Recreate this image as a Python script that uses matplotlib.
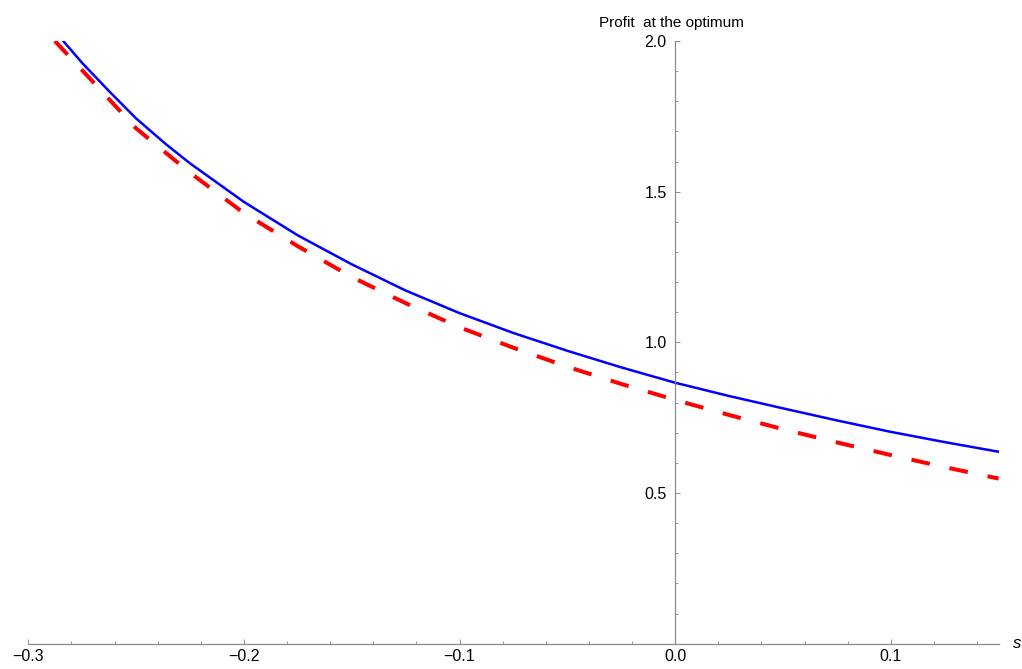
import numpy as np
import matplotlib.pyplot as plt
from matplotlib.ticker import MultipleLocator, FixedLocator

plt.rcParams["font.family"] = ["Liberation Sans", "DejaVu Sans"]
plt.rcParams["lines.scale_dashes"] = False

# values
s_blue = [-0.2838, -0.275, -0.2622, -0.25, -0.2359, -0.225, -0.2, -0.175, -0.15, -0.125, -0.1,
          -0.075, -0.05, -0.025, 0.0, 0.025, 0.05, 0.075, 0.1, 0.125, 0.15]
profit_blue = [2.0, 1.927, 1.831, 1.743, 1.656, 1.594, 1.466, 1.355, 1.259, 1.172, 1.097,
               1.031, 0.972, 0.917, 0.866, 0.822, 0.781, 0.741, 0.703, 0.669, 0.637]

s_red = [-0.2877, -0.2715, -0.25, -0.225, -0.2, -0.175, -0.15, -0.125, -0.1,
         -0.075, -0.05, -0.025, 0.0, 0.025, 0.05, 0.075, 0.1, 0.125, 0.15]
profit_red = [2.0, 1.876, 1.710, 1.563, 1.429, 1.319, 1.217, 1.130, 1.050,
              0.982, 0.919, 0.862, 0.809, 0.759, 0.712, 0.668, 0.626, 0.586, 0.548]

x_major = [-0.3, -0.2, -0.1, 0.0, 0.1]
y_major = [0.5, 1.0, 1.5, 2.0]

fig = plt.figure(figsize=(10.22, 6.69), dpi=100)
ax = fig.add_axes([0.0277, 0.0378, 0.9494, 0.9009])

ax.plot(s_blue, profit_blue, color="#0000ff", lw=1.8, solid_joinstyle="round")
ax.plot(s_red, profit_red, color="#ff0000", lw=2.9, dashes=(13.5, 14.5),
        dash_capstyle="butt")

ax.set_xlim(-0.3, 0.15)
ax.set_ylim(0, 2.0)

axis_gray = "#8c8c8c"
for side in ["top", "right"]:
    ax.spines[side].set_visible(False)
ax.spines["left"].set_position(("data", 0))
ax.spines["bottom"].set_position(("data", 0))
for side in ["left", "bottom"]:
    ax.spines[side].set_color(axis_gray)
    ax.spines[side].set_linewidth(0.9)

ax.xaxis.set_major_locator(FixedLocator(x_major))
ax.xaxis.set_minor_locator(MultipleLocator(0.02))
ax.yaxis.set_major_locator(FixedLocator(y_major))
ax.yaxis.set_minor_locator(MultipleLocator(0.1))
ax.set_xticklabels(["\u22120.3", "\u22120.2", "\u22120.1", "0.0", "0.1"])
ax.set_yticklabels(["0.5", "1.0", "1.5", "2.0"])

ax.tick_params(which="major", direction="in", length=3.5, width=0.7,
               color=axis_gray, labelsize=11.5, labelcolor="black")
ax.tick_params(which="minor", direction="in", length=2, width=0.6, color=axis_gray)
ax.tick_params(axis="x", which="major", pad=4)
ax.tick_params(axis="y", which="major", pad=6)

ax.annotate("Profit  at the optimum", xy=(0.0, 1.0), xycoords=("data", "axes fraction"),
            xytext=(-3, 8), textcoords="offset points",
            ha="center", va="bottom", fontsize=11)
ax.annotate("s", xy=(1.0, 0.0), xycoords=("axes fraction", "data"),
            xytext=(10, 0), textcoords="offset points",
            ha="left", va="center", fontsize=12, style="italic")

fig.savefig("out.png", dpi=100)
